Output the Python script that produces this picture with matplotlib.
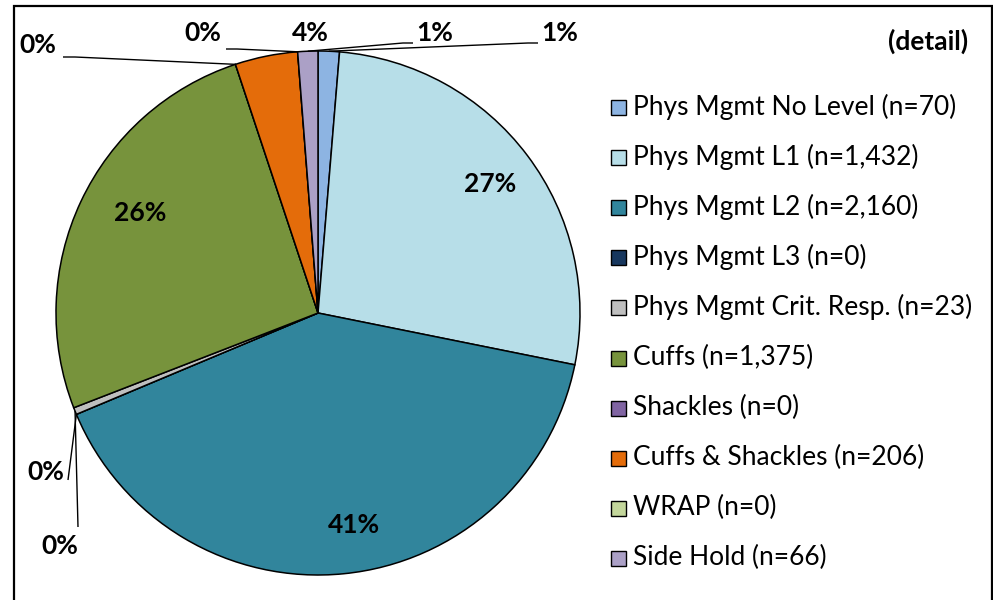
import matplotlib
matplotlib.use("Agg")
import matplotlib.pyplot as plt
import numpy as np
from matplotlib.patches import Rectangle

plt.rcParams['font.family'] = ['Lato', 'DejaVu Sans']

# ---- data ----
categories = ["Phys Mgmt No Level", "Phys Mgmt L1", "Phys Mgmt L2", "Phys Mgmt L3",
              "Phys Mgmt Crit. Resp.", "Cuffs", "Shackles", "Cuffs & Shackles",
              "WRAP", "Side Hold"]
counts = [70, 1432, 2160, 0, 23, 1375, 0, 206, 0, 66]
colors = ["#8DB4E2", "#B7DEE8", "#31859C", "#17375E", "#BFBFBF",
          "#77933C", "#8064A2", "#E46C0A", "#C3D69B", "#ABA0C6"]
legend_title = "(detail)"

# ---- layout (pixel coordinates, y measured from top) ----
W, H = 993, 600
CX, CY, R = 318, 313, 262
label_pos = {
    0: (560, 33), 1: (490, 184), 2: (354, 525), 3: (46, 472), 4: (60, 546),
    5: (140, 213), 6: (38, 45), 7: (310, 33), 8: (203, 33), 9: (435, 33),
}
leader_pts = {
    0: [(538, 43), (528, 43)],
    3: [(68, 480)],
    4: [(78, 527)],
    6: [(63, 57), (75, 57)],
    8: [(226, 49), (237, 49)],
    9: [(413, 43), (403, 43)],
}

def P(x, y):
    return (x, H - y)

fig = plt.figure(figsize=(W / 100, H / 100), dpi=100)
ax = fig.add_axes([0, 0, 1, 1])

wedges, _ = ax.pie(counts, colors=colors, startangle=90, counterclock=False,
                   radius=R, center=P(CX, CY),
                   wedgeprops=dict(edgecolor="black", linewidth=1.1))
ax.set_xlim(0, W)
ax.set_ylim(0, H)
ax.set_aspect('auto')
ax.axis('off')

total = sum(counts)
for i, (w, c) in enumerate(zip(wedges, counts)):
    pct = c / total * 100
    txt = f"{pct:.0f}%"
    lx, ly = label_pos[i]
    ax.text(*P(lx, ly), txt, ha='center', va='center', fontsize=19,
            fontweight='bold', color='black')
    if i in leader_pts:
        ang = np.deg2rad((w.theta1 + w.theta2) / 2)
        ex = CX + R * np.cos(ang)
        ey = (H - CY) + R * np.sin(ang)
        pts = [P(x, y) for x, y in leader_pts[i]] + [(ex, ey)]
        xs, ys = zip(*pts)
        ax.plot(xs, ys, color='black', lw=1.0, solid_capstyle='butt')

# legend (manual)
ax.text(*P(968, 41), legend_title, ha='right', va='center', fontsize=19,
        fontweight='bold')
for i, (cat, c, col) in enumerate(zip(categories, counts, colors)):
    y = 107 + 50.1 * i
    ax.add_patch(Rectangle(P(611, y + 8), 15, 15, facecolor=col,
                           edgecolor='black', lw=1.0))
    ax.text(*P(633, y), f"{cat} (n={c:,})", ha='left', va='center',
            fontsize=19)

# outer frame
ax.plot([14, 14, 992, 992], [0, H - 6, H - 6, 0], color='black', lw=1.6,
        solid_joinstyle='miter')

fig.savefig("out.png", dpi=100)
